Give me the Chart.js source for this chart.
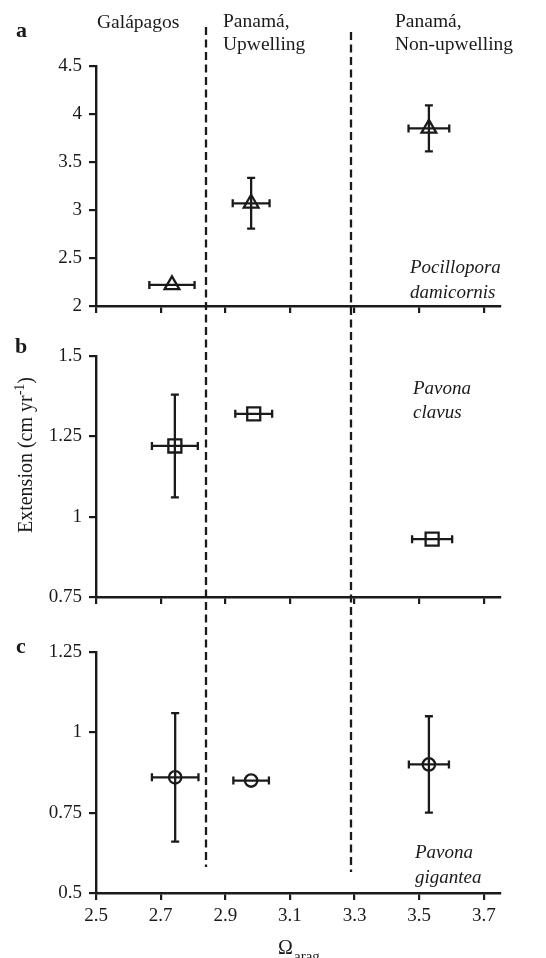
<!DOCTYPE html>
<html lang="en">
<head>
    <meta charset="UTF-8">
    <title>Coral extension vs aragonite saturation</title>
    <style>
        body {
            margin: 0;
            background: #fff;
        }
        .panel {
            position: absolute;
            left: 0;
            top: 0;
            width: 546px;
            height: 958px;
        }
    </style>
</head>
<body>
    <div class="panel"><canvas id="chartA"></canvas></div>
    <div class="panel"><canvas id="chartB"></canvas></div>
    <div class="panel"><canvas id="chartC"></canvas></div>

    <script src="https://cdn.jsdelivr.net/npm/chart.js"></script>
    <script>
        // shared x axis (Omega arag) and region boundaries
        const xTicks = [2.5, 2.7, 2.9, 3.1, 3.3, 3.5, 3.7];
        const boundaries = [2.84, 3.29];
        const regionNames = ['Galápagos', 'Panamá,', 'Upwelling', 'Panamá,', 'Non-upwelling'];

        // a: Pocillopora damicornis
        const aOmega = [2.735, 2.98, 3.53];
        const aOmegaErr = [0.07, 0.057, 0.063];
        const aExt = [2.22, 3.07, 3.85];
        const aExtErr = [0, 0.265, 0.24];
        const aTicks = [2, 2.5, 3, 3.5, 4, 4.5];

        // b: Pavona clavus
        const bOmega = [2.744, 2.988, 3.54];
        const bOmegaErr = [0.071, 0.057, 0.062];
        const bExt = [1.22, 1.32, 0.93];
        const bExtErr = [0.16, 0, 0];
        const bTicks = [0.75, 1, 1.25, 1.5];

        // c: Pavona gigantea
        const cOmega = [2.745, 2.98, 3.53];
        const cOmegaErr = [0.072, 0.055, 0.062];
        const cExt = [0.86, 0.85, 0.90];
        const cExtErr = [0.2, 0, 0.15];
        const cTicks = [0.5, 0.75, 1, 1.25];

        const INK = '#1a1a1a';
        const SERIF = '"Liberation Serif", "Times New Roman", serif';
        const PAGE_H = 958;
        const STROKE = 2.3;

        Chart.defaults.font.family = SERIF;
        Chart.defaults.color = INK;

        // error bars drawn with the chart's own scales
        const errorBars = {
            id: 'errorBars',
            beforeDatasetsDraw(chart, args, opts) {
                const { ctx, scales: { x, y } } = chart;
                const cap = 4;
                ctx.save();
                ctx.strokeStyle = INK;
                ctx.lineWidth = STROKE;
                opts.xs.forEach((xv, i) => {
                    const yv = opts.ys[i];
                    const py = y.getPixelForValue(yv);
                    const x1 = x.getPixelForValue(xv - opts.xErr[i]);
                    const x2 = x.getPixelForValue(xv + opts.xErr[i]);
                    ctx.beginPath();
                    ctx.moveTo(x1, py); ctx.lineTo(x2, py);
                    ctx.moveTo(x1, py - cap); ctx.lineTo(x1, py + cap);
                    ctx.moveTo(x2, py - cap); ctx.lineTo(x2, py + cap);
                    ctx.stroke();
                    if (opts.yErr[i] > 0) {
                        const px = x.getPixelForValue(xv);
                        const y1 = y.getPixelForValue(yv + opts.yErr[i]);
                        const y2 = y.getPixelForValue(yv - opts.yErr[i]);
                        ctx.beginPath();
                        ctx.moveTo(px, y1); ctx.lineTo(px, y2);
                        ctx.moveTo(px - cap, y1); ctx.lineTo(px + cap, y1);
                        ctx.moveTo(px - cap, y2); ctx.lineTo(px + cap, y2);
                        ctx.stroke();
                    }
                });
                ctx.restore();
            }
        };

        // free text: panel letters, region names, species names
        const notes = {
            id: 'notes',
            afterDraw(chart, args, opts) {
                const ctx = chart.ctx;
                ctx.save();
                ctx.fillStyle = INK;
                ctx.textBaseline = 'alphabetic';
                (opts.items || []).forEach(it => {
                    ctx.font = it.font;
                    ctx.textAlign = it.align || 'left';
                    ctx.fillText(it.text, it.x, it.y);
                });
                if (opts.yTitle) {
                    // Extension (cm yr^-1), rotated
                    const main = '20px ' + SERIF, sup = '14px ' + SERIF;
                    const parts = [['Extension (cm yr', main, 0], ['-1', sup, -8], [')', main, 0]];
                    let total = 0;
                    parts.forEach(p => { ctx.font = p[1]; total += ctx.measureText(p[0]).width; });
                    ctx.translate(32, 455);
                    ctx.rotate(-Math.PI / 2);
                    ctx.textAlign = 'left';
                    let cx = -total / 2;
                    parts.forEach(p => {
                        ctx.font = p[1];
                        ctx.fillText(p[0], cx, p[2]);
                        cx += ctx.measureText(p[0]).width;
                    });
                }
                ctx.restore();
            }
        };

        // dashed region dividers, spanning all three panels
        const dividers = {
            id: 'dividers',
            afterDraw(chart) {
                const { ctx, scales: { x } } = chart;
                const tops = [27, 32], bottoms = [867, 872];
                ctx.save();
                ctx.strokeStyle = INK;
                ctx.lineWidth = 2.3;
                ctx.setLineDash([8, 4.5]);
                boundaries.forEach((b, i) => {
                    const px = Math.round(x.getPixelForValue(b));
                    ctx.beginPath();
                    ctx.moveTo(px, tops[i]);
                    ctx.lineTo(px, bottoms[i]);
                    ctx.stroke();
                });
                ctx.restore();
            }
        };

        function makePanel(id, p) {
            const xAxisH = p.showX ? PAGE_H - p.bottom : 10;
            return new Chart(document.getElementById(id), {
                type: 'scatter',
                data: {
                    datasets: [{
                        data: p.xs.map((v, i) => ({ x: v, y: p.ys[i] })),
                        pointStyle: p.marker,
                        pointRadius: p.radius,
                        pointHoverRadius: p.radius,
                        borderColor: INK,
                        backgroundColor: 'rgba(0,0,0,0)',
                        borderWidth: STROKE,
                        pointHoverBorderWidth: STROKE
                    }]
                },
                options: {
                    responsive: true,
                    maintainAspectRatio: false,
                    animation: false,
                    events: [],
                    layout: {
                        padding: { top: p.top, bottom: PAGE_H - p.bottom - xAxisH, left: 0, right: 46 }
                    },
                    plugins: {
                        legend: { display: false },
                        tooltip: { enabled: false },
                        errorBars: { xs: p.xs, ys: p.ys, xErr: p.xErr, yErr: p.yErr },
                        notes: { items: p.notes, yTitle: !!p.yTitle }
                    },
                    scales: {
                        x: {
                            type: 'linear',
                            min: 2.5,
                            max: 3.75,
                            afterBuildTicks: s => { s.ticks = xTicks.map(v => ({ value: v })); },
                            afterFit: s => { s.height = xAxisH; },
                            ticks: {
                                display: p.showX,
                                padding: 5,
                                color: INK,
                                font: { size: 19 },
                                callback: v => v.toFixed(1)
                            },
                            grid: { drawOnChartArea: false, drawTicks: true, tickLength: 7, color: INK, lineWidth: 2.2 },
                            border: { display: true, color: INK, width: 2.4 }
                        },
                        y: {
                            min: p.ticks[0],
                            max: p.ticks[p.ticks.length - 1],
                            afterBuildTicks: s => { s.ticks = p.ticks.map(v => ({ value: v })); },
                            afterFit: s => { s.width = 96; },
                            ticks: {
                                padding: 7,
                                color: INK,
                                font: { size: 19 },
                                callback: v => String(v)
                            },
                            grid: { drawOnChartArea: false, drawTicks: true, tickLength: 7, color: INK, lineWidth: 2.2 },
                            border: { display: true, color: INK, width: 2.4 }
                        }
                    }
                },
                plugins: p.extra ? [errorBars, notes, p.extra] : [errorBars, notes]
            });
        }

        const labelFont = '19.5px ' + SERIF;
        const italicFont = 'italic 19px ' + SERIF;
        const letterFont = 'bold 22px ' + SERIF;

        makePanel('chartA', {
            xs: aOmega, ys: aExt, xErr: aOmegaErr, yErr: aExtErr, ticks: aTicks,
            marker: 'triangle', radius: 8.5, top: 66, bottom: 306, showX: false,
            notes: [
                { text: 'a', x: 16, y: 37, font: letterFont },
                { text: regionNames[0], x: 97, y: 28, font: labelFont },
                { text: regionNames[1], x: 223, y: 27, font: labelFont },
                { text: regionNames[2], x: 223, y: 50, font: labelFont },
                { text: regionNames[3], x: 395, y: 27, font: labelFont },
                { text: regionNames[4], x: 395, y: 50, font: labelFont },
                { text: 'Pocillopora', x: 410, y: 273, font: italicFont },
                { text: 'damicornis', x: 410, y: 298, font: italicFont }
            ]
        });

        makePanel('chartB', {
            xs: bOmega, ys: bExt, xErr: bOmegaErr, yErr: bExtErr, ticks: bTicks,
            marker: 'rect', radius: 9.2, top: 356, bottom: 597, showX: false, yTitle: true,
            notes: [
                { text: 'b', x: 15, y: 353, font: letterFont },
                { text: 'Pavona', x: 413, y: 394, font: italicFont },
                { text: 'clavus', x: 413, y: 418, font: italicFont }
            ]
        });

        makePanel('chartC', {
            xs: cOmega, ys: cExt, xErr: cOmegaErr, yErr: cExtErr, ticks: cTicks,
            marker: 'circle', radius: 6.2, top: 652, bottom: 893, showX: true,
            extra: dividers,
            notes: [
                { text: 'c', x: 16, y: 653, font: letterFont },
                { text: 'Pavona', x: 415, y: 858, font: italicFont },
                { text: 'gigantea', x: 415, y: 883, font: italicFont },
                { text: 'Ω', x: 278, y: 954, font: '20px ' + SERIF },
                { text: 'arag', x: 294, y: 961, font: '15px ' + SERIF }
            ]
        });
    </script>
</body>
</html>
